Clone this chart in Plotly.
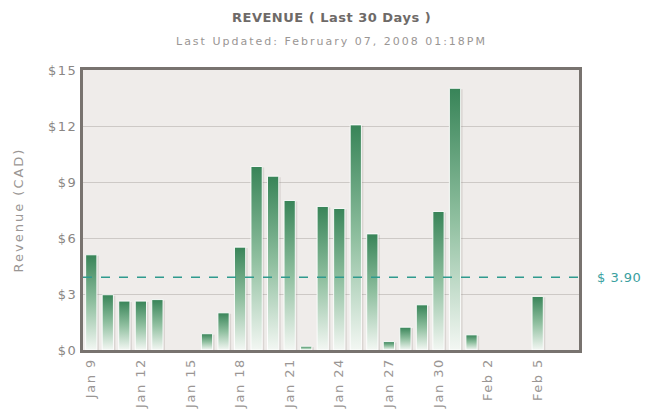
import plotly.graph_objects as go

# ---- data ----
days = ["Jan 9", "Jan 10", "Jan 11", "Jan 12", "Jan 13", "Jan 14", "Jan 15", "Jan 16",
        "Jan 17", "Jan 18", "Jan 19", "Jan 20", "Jan 21", "Jan 22", "Jan 23", "Jan 24",
        "Jan 25", "Jan 26", "Jan 27", "Jan 28", "Jan 29", "Jan 30", "Jan 31", "Feb 1",
        "Feb 2", "Feb 3", "Feb 4", "Feb 5", "Feb 6", "Feb 7"]
revenue = [5.10, 2.96, 2.62, 2.62, 2.70, 0, 0, 0.87,
           1.99, 5.51, 9.83, 9.31, 8.01, 0.20, 7.69, 7.58,
           12.06, 6.22, 0.45, 1.22, 2.42, 7.42, 14.02, 0.81,
           0, 0, 0, 2.87, 0, 0]
average = 3.90
tick_labels = ["Jan 9", "Jan 12", "Jan 15", "Jan 18", "Jan 21", "Jan 24", "Jan 27",
               "Jan 30", "Feb 2", "Feb 5"]
y_ticks = [0, 3, 6, 9, 12, 15]


def spaced(text, px):
    return f'<span style="letter-spacing:{px}px">{text}</span>'


BAR_W = 0.68
fig = go.Figure()

for i, v in enumerate(revenue):
    if v <= 0:
        continue
    x0, x1 = i - BAR_W / 2, i + BAR_W / 2
    # faint shadow
    fig.add_trace(go.Scatter(
        x=[x0 + 0.12, x1 + 0.12, x1 + 0.12, x0 + 0.12, x0 + 0.12],
        y=[0, 0, v - 0.05, v - 0.05, 0],
        fill="toself", mode="lines", line=dict(width=0),
        fillcolor="rgba(120,110,105,0.18)", hoverinfo="skip", showlegend=False))
    fig.add_trace(go.Scatter(
        x=[x0, x1, x1, x0, x0],
        y=[0, 0, v, v, 0],
        fill="toself", mode="lines",
        line=dict(color="rgba(255,255,255,0.9)", width=1),
        fillgradient=dict(type="vertical", start=0, stop=v,
                          colorscale=[[0, "#f3f7f3"], [0.5, "#8fbf9f"], [1, "#388458"]]),
        name=days[i], hovertemplate=days[i] + ": $%{customdata:.2f}<extra></extra>",
        customdata=[v] * 5, showlegend=False))

fig.add_shape(type="line", xref="paper", yref="y", x0=0, x1=1, y0=average, y1=average,
              line=dict(color="#2f9a8e", width=1.5, dash="dash"))
fig.add_annotation(xref="paper", yref="y", x=1, y=average, xanchor="left", xshift=16,
                   text=spaced("$ " + f"{average:.2f}", 0.5), showarrow=False,
                   font=dict(family="DejaVu Sans", size=13, color="#3aa0a0"))

fig.add_annotation(xref="paper", yref="paper", x=0.5, y=1.186, yanchor="middle",
                   text="<b>" + spaced("REVENUE ( Last 30 Days )", 0.5) + "</b>",
                   showarrow=False,
                   font=dict(family="DejaVu Sans", size=13, color="#6e6a68"))
fig.add_annotation(xref="paper", yref="paper", x=0.5, y=1.1, yanchor="middle",
                   text=spaced("Last Updated: February 07, 2008 01:18PM", 2),
                   showarrow=False,
                   font=dict(family="DejaVu Sans", size=11, color="#9a9694"))

tick_pos = [days.index(t) for t in tick_labels]

fig.update_layout(
    width=654, height=411,
    margin=dict(l=83, r=75, t=70, b=61),
    paper_bgcolor="white", plot_bgcolor="#efecea",
    font=dict(family="DejaVu Sans", color="#8a8684"),
    xaxis=dict(range=[-0.5, len(days) - 0.5], tickmode="array", tickvals=tick_pos,
               ticktext=[spaced(t, 1.5) for t in tick_labels], tickangle=-90,
               showgrid=False, zeroline=False, automargin=False,
               showline=True, mirror=True, linecolor="#78736f", linewidth=3,
               ticks="", tickfont=dict(size=13, color="#9a9694")),
    yaxis=dict(range=[0, 15], tickmode="array", tickvals=y_ticks,
               ticktext=[spaced("$" + str(t), 1.5) for t in y_ticks], showgrid=True,
               gridcolor="#cdc9c6", gridwidth=1, zeroline=False, automargin=False,
               showline=True, mirror=True, linecolor="#78736f", linewidth=3,
               ticks="", tickfont=dict(size=13, color="#8a8684"),
               title=dict(text=spaced("Revenue (CAD)", 2), standoff=22,
                          font=dict(size=13, color="#9a9694"))),
)

fig.write_html("out.html", config={"displayModeBar": False},
               post_script="document.body.style.margin='0';document.body.style.overflow='hidden';")
